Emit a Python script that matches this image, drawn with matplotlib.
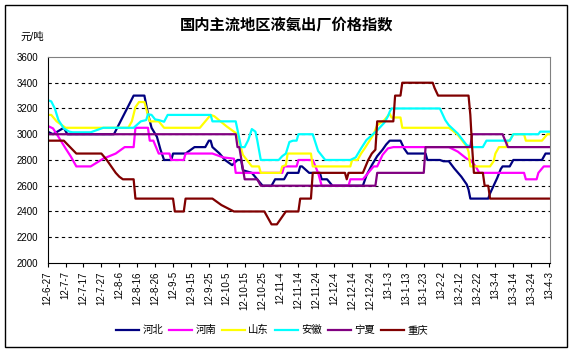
import numpy as np
import matplotlib
matplotlib.use('Agg')
import matplotlib.pyplot as plt
from matplotlib.patches import Rectangle

plt.rcParams['font.family'] = ['Liberation Sans', 'Noto Sans CJK SC']

title = '国内主流地区液氨出厂价格指数'
unit = '元/吨'

# one label every 10 days, day 0 = 12-6-27
tick_labels = ['12-6-27', '12-7-7', '12-7-17', '12-7-27', '12-8-6', '12-8-16',
               '12-8-26', '12-9-5', '12-9-15', '12-9-25', '12-10-5', '12-10-15',
               '12-10-25', '12-11-4', '12-11-14', '12-11-24', '12-12-4', '12-12-14',
               '12-12-24', '13-1-3', '13-1-13', '13-1-23', '13-2-2', '13-2-12',
               '13-2-22', '13-3-4', '13-3-14', '13-3-24', '13-4-3']

# price series: day offset from 12-6-27 and price (yuan/ton) at each change point
hebei_day = [0, 3, 9, 11, 37, 48, 54, 56, 58, 61, 63, 65, 69, 70, 77, 82, 88, 90, 91, 92,
             96, 99, 103, 106, 108, 109, 114, 117, 120, 125, 127, 132, 134, 140, 141, 142,
             146, 152, 153, 156, 159, 176, 178, 181, 184, 187, 189, 191, 197, 199, 201,
             211, 212, 219, 221, 224, 227, 231, 234, 235, 236, 246, 247, 249, 251, 253,
             254, 258, 260, 276, 278, 280]
hebei_val = [3020, 3000, 3050, 3000, 3000, 3300, 3300, 3160, 3050, 2980, 2880, 2800, 2800,
             2850, 2850, 2900, 2900, 2950, 2950, 2900, 2850, 2800, 2760, 2800, 2800, 2720,
             2700, 2650, 2600, 2600, 2650, 2650, 2700, 2700, 2750, 2750, 2700, 2700, 2650,
             2650, 2600, 2600, 2680, 2760, 2830, 2880, 2920, 2950, 2950, 2890, 2850, 2850,
             2800, 2800, 2790, 2790, 2735, 2670, 2610, 2570, 2500, 2500, 2540, 2600, 2660,
             2730, 2750, 2750, 2800, 2800, 2850, 2850]

henan_day = [0, 3, 6, 10, 13, 16, 24, 31, 38, 43, 48, 49, 56, 57, 59, 62, 68, 69, 76, 77,
             92, 98, 104, 105, 131, 132, 139, 140, 148, 151, 153, 168, 169, 176, 179, 182,
             184, 187, 190, 193, 224, 229, 234, 236, 239, 241, 266, 267, 273, 274, 277, 280]
henan_val = [3065, 3045, 2980, 2890, 2825, 2750, 2750, 2810, 2850, 2900, 2900, 3050, 3050,
             2950, 2950, 2850, 2850, 2800, 2800, 2850, 2850, 2820, 2810, 2700, 2700, 2750,
             2750, 2800, 2800, 2700, 2600, 2600, 2650, 2650, 2700, 2750, 2750, 2840, 2890,
             2900, 2900, 2865, 2810, 2800, 2750, 2700, 2700, 2650, 2650, 2700, 2750, 2750]

shandong_day = [0, 2, 5, 10, 45, 47, 49, 51, 54, 56, 57, 62, 65, 85, 88, 91, 93, 100, 106,
                107, 109, 114, 118, 119, 130, 131, 133, 134, 147, 148, 169, 170, 173, 175,
                177, 182, 184, 188, 191, 192, 197, 198, 224, 226, 229, 234, 235, 236, 247,
                249, 250, 252, 256, 257, 258, 260, 266, 267, 276, 279, 280]
shandong_val = [3150, 3150, 3100, 3050, 3050, 3100, 3210, 3250, 3250, 3150, 3100, 3100,
                3050, 3050, 3100, 3150, 3140, 3060, 3000, 2940, 2840, 2750, 2750, 2700,
                2700, 2750, 2760, 2850, 2850, 2750, 2750, 2800, 2800, 2850, 2890, 3000,
                3070, 3110, 3160, 3130, 3130, 3050, 3050, 3030, 2995, 2905, 2865, 2750,
                2750, 2790, 2850, 2900, 2900, 2950, 2950, 3000, 3000, 2950, 2950, 3000, 3000]

anhui_day = [0, 2, 4, 6, 9, 12, 14, 24, 27, 31, 48, 52, 55, 56, 58, 60, 62, 65, 67, 91, 92,
             105, 108, 110, 112, 114, 116, 117, 119, 129, 131, 133, 135, 137, 139, 140, 148,
             151, 155, 169, 172, 175, 178, 184, 188, 190, 191, 192, 219, 222, 224, 229, 234,
             237, 243, 245, 258, 260, 274, 275, 280]
anhui_val = [3265, 3255, 3200, 3110, 3045, 3020, 3015, 3015, 3030, 3050, 3050, 3100, 3110,
             3155, 3150, 3115, 3110, 3097, 3150, 3150, 3100, 3100, 2900, 2900, 2955, 3040,
             3020, 2955, 2800, 2800, 2830, 2850, 2940, 2950, 2950, 3000, 3000, 2870, 2800,
             2800, 2820, 2890, 2955, 3030, 3090, 3140, 3175, 3200, 3200, 3110, 3070, 3005,
             2915, 2900, 2900, 2950, 2950, 3000, 3000, 3020, 3020]

ningxia_day = [0, 105, 106, 107, 110, 117, 119, 183, 184, 210, 211, 236, 237, 254, 257, 280]
ningxia_val = [3000, 3000, 2900, 2900, 2650, 2650, 2600, 2600, 2700, 2700, 2900, 2900,
               3000, 3000, 2900, 2900]

chongqing_day = [0, 9, 16, 30, 33, 38, 40, 42, 48, 49, 70, 71, 76, 77, 92, 97, 104, 121,
                 125, 128, 133, 140, 141, 147, 148, 166, 167, 168, 176, 179, 181, 183, 184,
                 193, 194, 197, 198, 215, 216, 218, 235, 236, 237, 238, 243, 244, 246, 247,
                 280]
chongqing_val = [2950, 2950, 2850, 2850, 2800, 2700, 2670, 2650, 2650, 2500, 2500, 2400,
                 2400, 2500, 2500, 2450, 2400, 2400, 2300, 2300, 2400, 2400, 2500, 2500,
                 2700, 2700, 2650, 2700, 2700, 2800, 2850, 2880, 3100, 3100, 3300, 3300,
                 3400, 3400, 3360, 3300, 3300, 3150, 2900, 2700, 2700, 2600, 2600, 2500, 2500]

series = [
    ('河北', hebei_day, hebei_val, '#000080'),
    ('河南', henan_day, henan_val, '#ff00ff'),
    ('山东', shandong_day, shandong_val, '#ffff00'),
    ('安徽', anhui_day, anhui_val, '#00ffff'),
    ('宁夏', ningxia_day, ningxia_val, '#800080'),
    ('重庆', chongqing_day, chongqing_val, '#800000'),
]

fig = plt.figure(figsize=(5.73, 3.53), dpi=100)
ax = fig.add_axes([0.0832, 0.255, 0.8767, 0.5836])

for y in range(2200, 3600, 200):
    ax.axhline(y, color='black', lw=0.8, ls=(0, (3, 3)), zorder=0)

for name, d, v, c in series:
    ax.plot(d, v, color=c, lw=1.6, label=name)

ax.set_xlim(0, 280.5)
ax.set_ylim(2000, 3600)
ax.set_yticks(range(2000, 3601, 200))
ax.set_xticks(np.arange(len(tick_labels)) * 10)
ax.set_xticklabels(tick_labels, rotation=90)
ax.tick_params(axis='y', length=0, pad=7, labelsize=7)
ax.tick_params(axis='x', length=3, pad=3, labelsize=7)

ax.spines['left'].set_color('black')
ax.spines['bottom'].set_color('black')
ax.spines['top'].set_color('#808080')
ax.spines['right'].set_color('#808080')

fig.text(0.5, 0.929, title, ha='center', va='center', fontsize=11, fontweight='bold')
fig.text(0.035, 0.895, unit, ha='left', va='center', fontsize=7.5)

fig.legend(loc='center', bbox_to_anchor=(0.475, 0.065), ncol=6, frameon=False,
           fontsize=7.5, handlelength=2.2, handletextpad=0.3, columnspacing=0.6)

fig.patches.append(Rectangle((5 / 573, 6 / 353), 562 / 573, 342 / 353,
                             transform=fig.transFigure, fill=False, ec='black', lw=1))

fig.savefig('out.png', dpi=100)
